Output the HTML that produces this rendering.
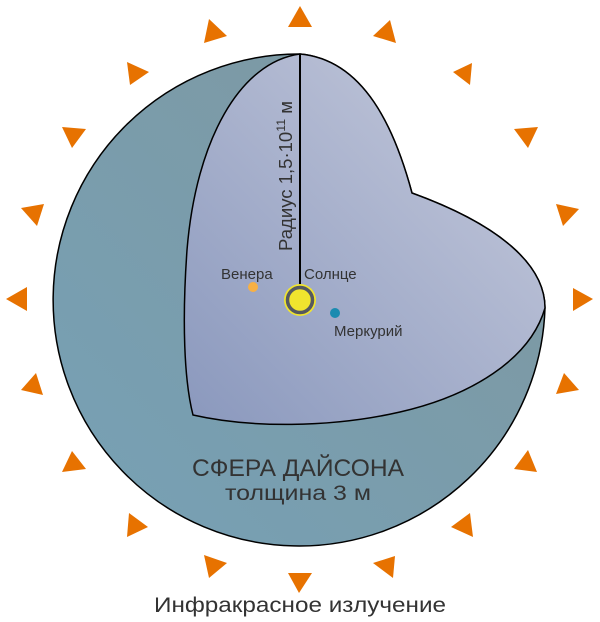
<!DOCTYPE html>
<html><head><meta charset="utf-8"><style>html,body{margin:0;padding:0;background:#fff}svg{display:block}</style></head>
<body>
<svg width="600" height="622" viewBox="0 0 600 622" xmlns="http://www.w3.org/2000/svg">
<defs>
<linearGradient id="sph" x1="0" y1="1" x2="1" y2="0">
<stop offset="0" stop-color="#76a1b6"/><stop offset="1" stop-color="#7f979f"/>
</linearGradient>
<linearGradient id="cut" x1="0" y1="1" x2="1" y2="0">
<stop offset="0" stop-color="#8a98bd"/><stop offset="1" stop-color="#c8ccdd"/>
</linearGradient>
</defs>
<path d="M300,54 A246,246 0 1 0 545,308 C545,265 500,225 412,193 C395,130 365,60 300,54 Z" fill="url(#sph)" stroke="#000" stroke-width="1.5"/>
<path d="M300,54 C240,62 196,140 187,250 C182,320 184,380 193,415 C250,428 330,428 400,412 C470,396 530,360 545,308 C545,265 500,225 412,193 C395,130 365,60 300,54 Z" fill="url(#cut)" stroke="#000" stroke-width="1.5"/>
<line x1="300" y1="54" x2="300" y2="290" stroke="#000" stroke-width="2"/>
<circle cx="300" cy="300" r="16" fill="#f0e42e"/>
<circle cx="300" cy="300" r="12.5" fill="none" stroke="#555960" stroke-width="3.5"/>
<circle cx="253" cy="287" r="5" fill="#f7b044"/>
<circle cx="335" cy="313" r="5" fill="#1a8bb0"/>
<g font-family="Liberation Sans, sans-serif" fill="#333">
<text x="221" y="279" font-size="15">Венера</text>
<text x="304" y="279" font-size="15">Солнце</text>
<text x="334" y="336" font-size="15">Меркурий</text>
<text transform="translate(292,251) rotate(-90)" font-size="18" textLength="150" lengthAdjust="spacingAndGlyphs">Радиус 1,5·10<tspan font-size="12" dy="-7">11</tspan><tspan dy="7"> м</tspan></text>
<text x="298" y="476" font-size="24" text-anchor="middle" textLength="212" lengthAdjust="spacingAndGlyphs">СФЕРА ДАЙСОНА</text>
<text x="298" y="500" font-size="21" text-anchor="middle" textLength="146" lengthAdjust="spacingAndGlyphs">толщина 3 м</text>
<text x="300" y="612" font-size="21" text-anchor="middle" textLength="292" lengthAdjust="spacingAndGlyphs">Инфракрасное излучение</text>
</g>
<g fill="#e77200">
<polygon points="300,6 312,27 288,27"/>
<polygon points="390,20 396,43 373,36"/>
<polygon points="453,72 472,63 470,85"/>
<polygon points="514,129 538,127 528,148"/>
<polygon points="556,204 579,209 563,226"/>
<polygon points="573,288 593,299 573,311"/>
<polygon points="564,373 579,390 556,394"/>
<polygon points="528,450 537,472 514,469"/>
<polygon points="470,513 473,537 451,527"/>
<polygon points="373,563 395,556 393,578"/>
<polygon points="288,573 312,573 299,593"/>
<polygon points="204,555 227,563 209,578"/>
<polygon points="129,513 148,527 127,537"/>
<polygon points="72,451 86,469 62,472"/>
<polygon points="36,373 43,395 21,390"/>
<polygon points="6,299 27,287 27,311"/>
<polygon points="21,208 44,204 37,226"/>
<polygon points="62,127 86,129 72,148"/>
<polygon points="127,62 149,72 130,85"/>
<polygon points="209,19 227,36 204,43"/>
</g>
</svg>
</body></html>
